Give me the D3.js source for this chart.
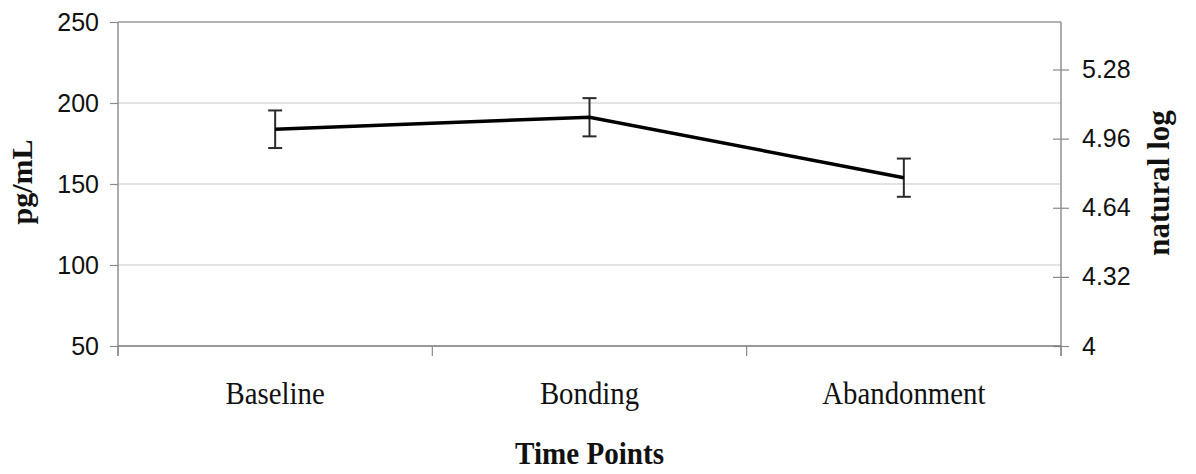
<!DOCTYPE html>
<html>
<head>
<meta charset="utf-8">
<script src="https://cdn.jsdelivr.net/npm/d3@7"></script>
<style>
  html, body { margin: 0; padding: 0; background: #fff; }
  svg { display: block; }
</style>
</head>
<body>
<svg id="chart" width="1196" height="474"></svg>
<script>
// ---- data ----
const categories = ["Baseline", "Bonding", "Abandonment"];
const meanValues = [183.8, 191.2, 153.9];
const errorValues = [11.6, 11.8, 11.8];
const leftTicks = [50, 100, 150, 200, 250];
const rightTicks = [4, 4.32, 4.64, 4.96, 5.28];
const leftLabel = "pg/mL";
const rightLabel = "natural log";
const xLabel = "Time Points";

// ---- layout ----
const W = 1196, H = 474;
const m = { left: 118, right: 1196 - 1061, top: 22, bottom: 474 - 346 };
const svg = d3.select("#chart");

const x = d3.scaleBand().domain(categories).range([m.left, W - m.right]).paddingInner(0).paddingOuter(0);
const y = d3.scaleLinear().domain([50, 250]).range([H - m.bottom, m.top]);
const y2 = d3.scaleLinear().domain([4, 5.5]).range([H - m.bottom, m.top]);

const sans = "'Liberation Sans', Arial, sans-serif";
const serif = "'Liberation Serif', 'Times New Roman', serif";
const axisColor = "#8a8a8a";

// gridlines
svg.append("g")
  .selectAll("line")
  .data(leftTicks.filter(d => d !== 50 && d !== 250))
  .join("line")
  .attr("x1", m.left).attr("x2", W - m.right)
  .attr("y1", d => y(d)).attr("y2", d => y(d))
  .attr("stroke", "#c8c8c8").attr("stroke-width", 1.2);

// top border
svg.append("line")
  .attr("x1", m.left).attr("x2", W - m.right)
  .attr("y1", y(250)).attr("y2", y(250))
  .attr("stroke", "#9a9a9a").attr("stroke-width", 1.3);

// left axis
const gL = svg.append("g").attr("transform", `translate(${m.left},0)`)
  .call(d3.axisLeft(y).tickValues(leftTicks).tickSize(8).tickPadding(11).tickSizeOuter(0));
gL.select(".domain").remove();
gL.selectAll(".tick line").attr("stroke", axisColor).attr("stroke-width", 1.2);
gL.selectAll(".tick text").attr("font-family", sans).attr("font-size", 25).attr("fill", "#111");
svg.append("line").attr("x1", m.left).attr("x2", m.left)
  .attr("y1", m.top).attr("y2", H - m.bottom + 10)
  .attr("stroke", axisColor).attr("stroke-width", 1.4);

// right axis
const gR = svg.append("g").attr("transform", `translate(${W - m.right},0)`)
  .call(d3.axisRight(y2).tickValues(rightTicks).tickSize(8).tickPadding(13).tickSizeOuter(0)
    .tickFormat(d => d3.format("")(d)));
gR.select(".domain").remove();
gR.selectAll(".tick line").attr("x1", -8).attr("stroke", axisColor).attr("stroke-width", 1.2);
gR.selectAll(".tick text").attr("font-family", sans).attr("font-size", 25).attr("fill", "#111");
svg.append("line").attr("x1", W - m.right).attr("x2", W - m.right)
  .attr("y1", m.top).attr("y2", H - m.bottom + 10)
  .attr("stroke", axisColor).attr("stroke-width", 1.4);

// bottom axis
const gB = svg.append("g").attr("transform", `translate(0,${H - m.bottom})`)
  .call(d3.axisBottom(x).tickSize(0).tickPadding(0));
gB.select(".domain").remove();
gB.selectAll(".tick text").remove();
svg.append("line").attr("x1", m.left).attr("x2", W - m.right)
  .attr("y1", H - m.bottom).attr("y2", H - m.bottom)
  .attr("stroke", "#777").attr("stroke-width", 1.6);
const boundaries = categories.map(c => x(c)).concat([x(categories[categories.length - 1]) + x.bandwidth()]);
svg.append("g").selectAll("line").data(boundaries).join("line")
  .attr("x1", d => d).attr("x2", d => d)
  .attr("y1", H - m.bottom).attr("y2", H - m.bottom + 10)
  .attr("stroke", axisColor).attr("stroke-width", 1.2);
svg.append("g").selectAll("text").data(categories).join("text")
  .attr("transform", d => `translate(${x(d) + x.bandwidth() / 2},404) scale(0.96,1.04)`)
  .attr("text-anchor", "middle")
  .attr("font-family", serif).attr("font-size", 30).attr("fill", "#111")
  .text(d => d);

// line
const cx = d => x(d) + x.bandwidth() / 2;
const pts = categories.map((c, i) => ({ c, v: meanValues[i], e: errorValues[i] }));

// error bars
const eb = svg.append("g").attr("stroke", "#2a2a2a").attr("stroke-width", 2).attr("fill", "none");
eb.selectAll("line.v").data(pts).join("line").attr("class", "v")
  .attr("x1", d => cx(d.c)).attr("x2", d => cx(d.c))
  .attr("y1", d => y(d.v + d.e)).attr("y2", d => y(d.v - d.e));
eb.selectAll("line.t").data(pts).join("line").attr("class", "t")
  .attr("x1", d => cx(d.c) - 7).attr("x2", d => cx(d.c) + 7)
  .attr("y1", d => y(d.v + d.e)).attr("y2", d => y(d.v + d.e));
eb.selectAll("line.b").data(pts).join("line").attr("class", "b")
  .attr("x1", d => cx(d.c) - 7).attr("x2", d => cx(d.c) + 7)
  .attr("y1", d => y(d.v - d.e)).attr("y2", d => y(d.v - d.e));

svg.append("path")
  .datum(pts)
  .attr("fill", "none").attr("stroke", "#000").attr("stroke-width", 3.5)
  .attr("stroke-linejoin", "miter")
  .attr("d", d3.line().x(d => cx(d.c)).y(d => y(d.v)));

// axis titles
svg.append("text")
  .attr("transform", "translate(32,182) rotate(-90)")
  .attr("text-anchor", "middle")
  .attr("font-family", serif).attr("font-weight", "bold").attr("font-size", 30).attr("fill", "#111")
  .text(leftLabel);
svg.append("text")
  .attr("transform", "translate(1169,183) rotate(-90)")
  .attr("text-anchor", "middle")
  .attr("font-family", serif).attr("font-weight", "bold").attr("font-size", 31).attr("fill", "#111")
  .text(rightLabel);
svg.append("text")
  .attr("transform", `translate(${(m.left + W - m.right) / 2},464) scale(0.97,1.04)`)
  .attr("text-anchor", "middle")
  .attr("font-family", serif).attr("font-weight", "bold").attr("font-size", 30).attr("fill", "#111")
  .text(xLabel);
</script>
</body>
</html>
